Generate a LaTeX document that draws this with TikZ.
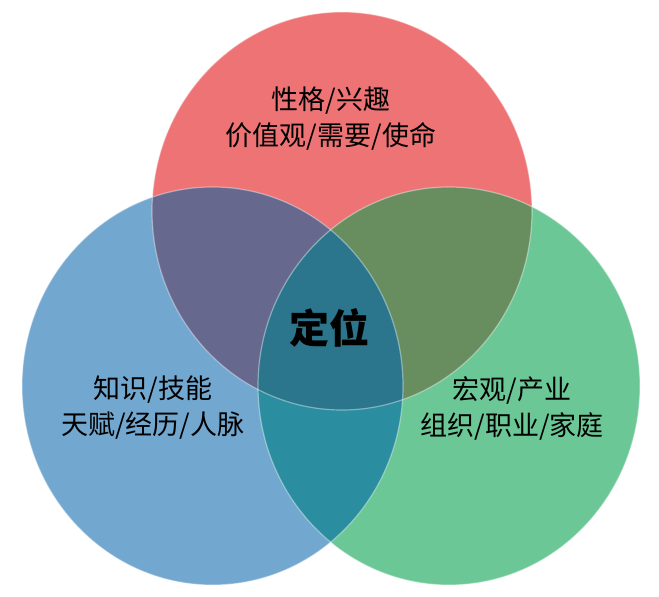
\documentclass[tikz,border=0pt]{standalone}
\usepackage{fontspec}
\setmainfont{Noto Sans CJK SC}
\definecolor{redOnly}{RGB}{238,115,117}
\definecolor{blueOnly}{RGB}{114,167,208}
\definecolor{greenOnly}{RGB}{108,199,150}
\definecolor{redBlue}{RGB}{103,104,142}
\definecolor{redGreen}{RGB}{104,142,96}
\definecolor{blueGreen}{RGB}{42,142,160}
\definecolor{allThree}{RGB}{43,118,140}

\begin{document}
\begin{tikzpicture}[x = 1pt, y = -1pt]
	\tikzstyle{labelStyle}=[align = center, inner sep = 0pt, font = \fontsize{27}{36}\selectfont]
	\tikzstyle{centreStyle}=[inner sep = 0pt, font = \fontsize{40}{44}\selectfont\bfseries]
	\tikzstyle{rimStyle}=[draw = white, draw opacity = 0.4, line width = 1.2pt]
	\useasboundingbox (0,0) rectangle (659,597);
	\coordinate (cRed) at (342,211);
	\coordinate (cBlue) at (212.5,386);
	\coordinate (cGreen) at (449,386);
	\def\redShape{(cRed) ellipse [x radius = 190, y radius = 199]}
	\def\blueShape{(cBlue) ellipse [x radius = 190.5, y radius = 199]}
	\def\greenShape{(cGreen) ellipse [x radius = 191, y radius = 199]}
	\fill[redOnly] \redShape;
	\fill[blueOnly] \blueShape;
	\fill[greenOnly] \greenShape;
	\begin{scope}
		\clip \redShape;
		\fill[redBlue] \blueShape;
		\fill[redGreen] \greenShape;
	\end{scope}
	\begin{scope}
		\clip \blueShape;
		\fill[blueGreen] \greenShape;
	\end{scope}
	\begin{scope}
		\clip \redShape;
		\clip \blueShape;
		\fill[allThree] \greenShape;
	\end{scope}
	\path[rimStyle] \redShape;
	\path[rimStyle] \blueShape;
	\path[rimStyle] \greenShape;
	\node[labelStyle] (redText) at (331,119) {性格/兴趣\\价值观/需要/使命};
	\node[labelStyle] (blueText) at (153,408) {知识/技能\\天赋/经历/人脉};
	\node[labelStyle] (greenText) at (512,408) {宏观/产业\\组织/职业/家庭};
	\node[centreStyle] (centreText) at (329,328) {定位};
\end{tikzpicture}
\end{document}
